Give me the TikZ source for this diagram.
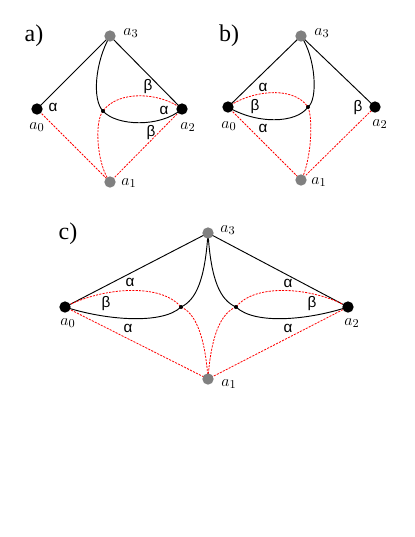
\documentclass[tikz,border=0pt]{standalone}
\usepackage{fontspec}
\setmainfont{Liberation Serif}
\newfontfamily\grk{Liberation Sans}
\begin{document}
\begin{tikzpicture}[x=0.75pt,y=-0.75pt,
	big/.style={circle,fill=black,inner sep=0pt,minimum size=8.5pt},
	grey/.style={circle,fill=gray,inner sep=0pt,minimum size=8.5pt},
	tiny/.style={circle,fill=black,inner sep=0pt,minimum size=3pt},
	reddash/.style={red,densely dashed,dash pattern=on 1.6pt off 0.9pt,line width=0.6pt},
	blk/.style={black,line width=0.7pt},
	lbl/.style={font=\fontsize{13}{14}\selectfont},
	gr/.style={font=\grk\fontsize{11.5}{13}\selectfont},
	pan/.style={font=\fontsize{18}{20}\selectfont}]
\useasboundingbox (0,0) rectangle (415,537);
% panel a
\node (ta) at (34,36) [pan] {a)};
\coordinate (a0) at (37,109);
\coordinate (a1) at (110,182);
\coordinate (a2) at (182,109);
\coordinate (a3) at (110,36);
\coordinate (ad) at (103,111);
\draw[blk] (a0) -- (a3) -- (a2);
\draw[reddash] (a0) -- (a1) -- (a2);
\draw[blk] (a3) .. controls (95,62) and (92,100) .. (ad);
\draw[blk] (ad) .. controls (116,126) and (160,128) .. (a2);
\draw[reddash] (a2) .. controls (160,92) and (118,90) .. (ad);
\draw[reddash] (ad) .. controls (94,122) and (97,165) .. (a1);
\node (na0) at (a0) [big] {};
\node (na2) at (a2) [big] {};
\node (na1) at (a1) [grey] {};
\node (na3) at (a3) [grey] {};
\node (nad) at (ad) [tiny] {};
\node (la3) at (131,33) [lbl] {$a_3$};
\node (la0) at (37,127) [lbl] {$a_0$};
\node (la2) at (188,127) [lbl] {$a_2$};
\node (la1) at (129,183) [lbl] {$a_1$};
\node (ga1) at (53,107) [gr] {α};
\node (ga2) at (148,87) [gr] {β};
\node (ga3) at (164,110) [gr] {α};
\node (ga4) at (151,133) [gr] {β};
% panel b
\node (tb) at (229,36) [pan] {b)};
\coordinate (b0) at (228,107);
\coordinate (b1) at (301,180);
\coordinate (b2) at (375,107);
\coordinate (b3) at (301,36);
\coordinate (bd) at (308,107);
\draw[blk] (b0) -- (b3) -- (b2);
\draw[reddash] (b0) -- (b1) -- (b2);
\draw[blk] (b3) .. controls (316,58) and (318,100) .. (bd);
\draw[blk] (bd) .. controls (296,124) and (256,124) .. (b0);
\draw[reddash] (b0) .. controls (248,92) and (292,84) .. (bd);
\draw[reddash] (bd) .. controls (314,122) and (310,165) .. (b1);
\node (nb0) at (b0) [big] {};
\node (nb2) at (b2) [big] {};
\node (nb1) at (b1) [grey] {};
\node (nb3) at (b3) [grey] {};
\node (nbd) at (bd) [tiny] {};
\node (lb3) at (322,33) [lbl] {$a_3$};
\node (lb0) at (229,126) [lbl] {$a_0$};
\node (lb2) at (380,124) [lbl] {$a_2$};
\node (lb1) at (319,182) [lbl] {$a_1$};
\node (gb1) at (263,87) [gr] {α};
\node (gb2) at (255,107) [gr] {β};
\node (gb3) at (263,128) [gr] {α};
\node (gb4) at (358,108) [gr] {β};
% panel c
\node (tc) at (68,234) [pan] {c)};
\coordinate (c0) at (65,307);
\coordinate (c1) at (208,379);
\coordinate (c2) at (348,307);
\coordinate (c3) at (208,233);
\coordinate (cl) at (181,307);
\coordinate (cr) at (236,307);
\draw[blk] (c0) -- (c3) -- (c2);
\draw[reddash] (c0) -- (c1) -- (c2);
\draw[blk] (c3) .. controls (205,280) and (196,300) .. (cl);
\draw[blk] (cl) .. controls (162,325) and (105,320) .. (c0);
\draw[blk] (c3) .. controls (211,280) and (220,300) .. (cr);
\draw[blk] (cr) .. controls (255,325) and (308,320) .. (c2);
\draw[reddash] (c0) .. controls (100,288) and (160,282) .. (cl);
\draw[reddash] (cl) .. controls (200,315) and (206,350) .. (c1);
\draw[reddash] (c2) .. controls (315,288) and (256,282) .. (cr);
\draw[reddash] (cr) .. controls (216,315) and (210,350) .. (c1);
\node (nc0) at (c0) [big] {};
\node (nc2) at (c2) [big] {};
\node (nc1) at (c1) [grey] {};
\node (nc3) at (c3) [grey] {};
\node (ncl) at (cl) [tiny] {};
\node (ncr) at (cr) [tiny] {};
\node (lc3) at (228,230) [lbl] {$a_3$};
\node (lc0) at (68,323) [lbl] {$a_0$};
\node (lc2) at (352,323) [lbl] {$a_2$};
\node (lc1) at (229,384) [lbl] {$a_1$};
\node (gc1) at (130,282) [gr] {α};
\node (gc2) at (106,304) [gr] {β};
\node (gc3) at (128,328) [gr] {α};
\node (gc4) at (288,283) [gr] {α};
\node (gc5) at (312,304) [gr] {β};
\node (gc6) at (288,328) [gr] {α};
\end{tikzpicture}
\end{document}
